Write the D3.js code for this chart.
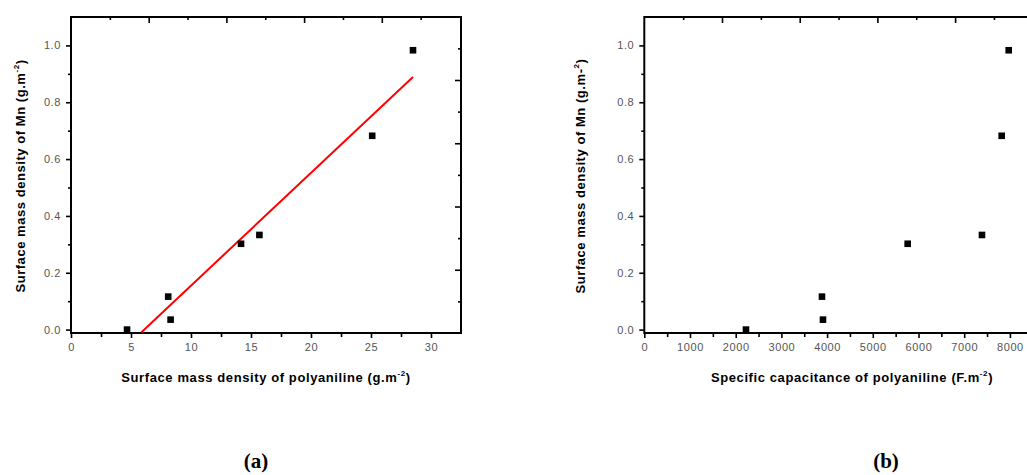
<!DOCTYPE html>
<html><head><meta charset="utf-8">
<script src="https://cdn.jsdelivr.net/npm/d3@7"></script>
<style>
html,body{margin:0;padding:0;background:#fff;}
svg{display:block;}
.tick-label{font-family:"Liberation Sans",Arial,sans-serif;font-size:11px;fill:#555;letter-spacing:0.6px;}
.title{font-family:"Liberation Sans",Arial,sans-serif;font-size:13px;font-weight:bold;fill:#000;}
.panel{font-family:"Liberation Serif","Times New Roman",serif;font-size:21px;font-weight:bold;fill:#000;}
</style>
</head><body>
<svg id="c" width="1027" height="475"></svg>
<script>
// ---- data ----
const massPANI = [4.67, 8.1, 8.3, 14.17, 15.7, 25.1, 28.5];      // g.m-2
const capPANI  = [2225, 3888, 3910, 5763, 7389, 7820, 7974];     // F.m-2
const massMn   = [0.0, 0.116, 0.035, 0.302, 0.333, 0.682, 0.983];
const fitX = [5.85, 28.5];
const fitY = [-0.01, 0.889];
const xTicksA = [0, 5, 10, 15, 20, 25, 30];
const xMinorA = [2.5, 7.5, 12.5, 17.5, 22.5, 27.5];
const xTicksB = [0, 1000, 2000, 3000, 4000, 5000, 6000, 7000, 8000];
const xMinorB = [500, 1500, 2500, 3500, 4500, 5500, 6500, 7500];
const yTicks = [0.0, 0.2, 0.4, 0.6, 0.8, 1.0];
const yMinor = [0.1, 0.3, 0.5, 0.7, 0.9];
const auxMajor = [1, 2, 3, 4];
const auxMinor = [0.5, 1.5, 2.5, 3.5, 4.5];

const svg = d3.select("#c");

function drawPanel(o) {
  const g = svg.append("g");
  const x = d3.scaleLinear().domain(o.xDomain).range([o.left, o.right]);
  const y = d3.scaleLinear().domain([-0.012, 1.1]).range([333, 17]);
  const xt = d3.scaleLinear().domain([0, 1]).range([o.left, o.left + 77.7]);
  const yr = d3.scaleLinear().domain([0, 1]).range([333, 333 - 63.25]);

  const top = 17, bot = 333;
  g.append("path").attr("d", `M${o.left},${top}H${o.right}V${bot}H${o.left}Z`)
    .attr("fill", "none").attr("stroke", "#000").attr("stroke-width", 2);

  const bx = d3.axisBottom(x).tickValues(o.xTicks).tickSize(5).tickPadding(5).tickFormat(d3.format("d"));
  const ax = g.append("g").attr("transform", `translate(0,${bot})`).call(bx);
  ax.select(".domain").remove();
  ax.selectAll("line").attr("stroke", "#000").attr("stroke-width", 1.6);
  ax.selectAll("text").attr("class", "tick-label").attr("fill", null).attr("font-size", null).attr("font-family", null);
  const bxm = d3.axisBottom(x).tickValues(o.xMinor).tickSize(4).tickFormat("");
  const axm = g.append("g").attr("transform", `translate(0,${bot})`).call(bxm);
  axm.select(".domain").remove();
  axm.selectAll("line").attr("stroke", "#000").attr("stroke-width", 1.6);

  const ly = d3.axisLeft(y).tickValues(yTicks).tickSize(5).tickPadding(5).tickFormat(d3.format(".1f"));
  const ay = g.append("g").attr("transform", `translate(${o.left},0)`).call(ly);
  ay.select(".domain").remove();
  ay.selectAll("line").attr("stroke", "#000").attr("stroke-width", 1.6);
  ay.selectAll("text").attr("class", "tick-label").attr("fill", null).attr("font-size", null).attr("font-family", null);
  const lym = d3.axisLeft(y).tickValues(yMinor).tickSize(3).tickFormat("");
  const aym = g.append("g").attr("transform", `translate(${o.left},0)`).call(lym);
  aym.select(".domain").remove();
  aym.selectAll("line").attr("stroke", "#000").attr("stroke-width", 1.6);

  [[auxMajor, 6], [auxMinor, 3]].forEach(([vals, len]) => {
    const a = g.append("g").attr("transform", `translate(0,${top})`)
      .call(d3.axisBottom(xt).tickValues(vals).tickSize(len).tickFormat(""));
    a.select(".domain").remove();
    a.selectAll("line").attr("stroke", "#000").attr("stroke-width", 1.6);
  });
  [[auxMajor, 6], [auxMinor, 3]].forEach(([vals, len]) => {
    const a = g.append("g").attr("transform", `translate(${o.right},0)`)
      .call(d3.axisLeft(yr).tickValues(vals).tickSize(len).tickFormat(""));
    a.select(".domain").remove();
    a.selectAll("line").attr("stroke", "#000").attr("stroke-width", 1.6);
  });

  if (o.fit) {
    g.append("path").datum(d3.zip(fitX, fitY))
      .attr("d", d3.line().x(d => x(d[0])).y(d => y(d[1])))
      .attr("fill", "none").attr("stroke", "#f00").attr("stroke-width", 2);
  }

  const pts = d3.zip(o.xs, massMn);
  g.selectAll("rect.pt").data(pts).join("rect").attr("class", "pt")
    .attr("x", d => x(d[0]) - 3.3).attr("y", d => y(d[1]) - 3.3)
    .attr("width", 6.6).attr("height", 6.6).attr("fill", "#000");

  const xt2 = g.append("text").attr("class", "title").attr("x", o.xTitleX).attr("y", 382)
    .attr("text-anchor", "middle").style("letter-spacing", "0.6px");
  xt2.append("tspan").text(o.xTitle);
  xt2.append("tspan").attr("font-size", "8px").attr("dy", -6).text("-2");
  xt2.append("tspan").attr("dy", 6).text(")");

  const yt = g.append("text").attr("class", "title")
    .attr("transform", `translate(${o.yTitleX},176) rotate(-90)`)
    .attr("text-anchor", "middle").style("letter-spacing", "0.55px");
  yt.append("tspan").text("Surface mass density of Mn (g.m" + o.ySupPre);
  yt.append("tspan").attr("font-size", "8px").attr("dy", -6).text(o.ySup);
  yt.append("tspan").attr("dy", 6).text(")");

  g.append("text").attr("class", "panel").attr("x", o.labelX).attr("y", 468)
    .attr("text-anchor", "middle").text(o.label);
}

drawPanel({
  left: 71, right: 461, xDomain: [0, 32.5], xTicks: xTicksA, xMinor: xMinorA,
  xs: massPANI, fit: true,
  xTitle: "Surface mass density of polyaniline (g.m", xTitleX: 266,
  yTitleX: 25, ySupPre: "", ySup: "-2", label: "(a)", labelX: 256
});
drawPanel({
  left: 644.3, right: 1044, xDomain: [0, (1044 - 644.3) / 0.0457], xTicks: xTicksB, xMinor: xMinorB,
  xs: capPANI, fit: false,
  xTitle: "Specific capacitance of polyaniline (F.m", xTitleX: 852,
  yTitleX: 585, ySupPre: "-", ySup: "2", label: "(b)", labelX: 886
});
</script>
</body></html>
